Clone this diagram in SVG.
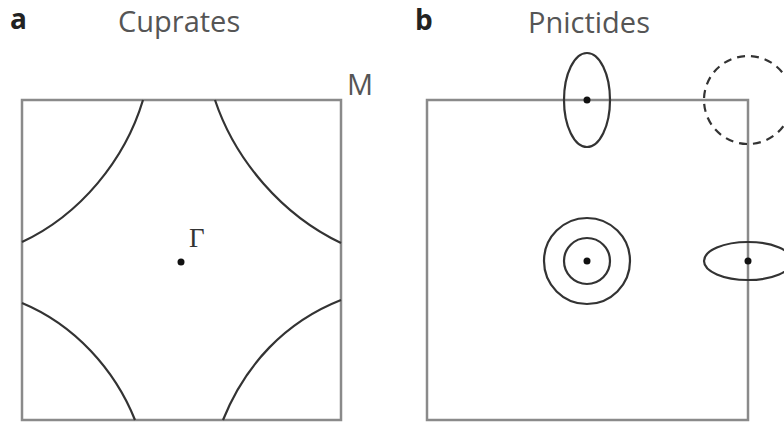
<svg xmlns="http://www.w3.org/2000/svg" width="784" height="426" viewBox="0 0 784 426">
<style>
.box{fill:none;stroke:#8a8a8a;stroke-width:2.5}
.fs{fill:none;stroke:#333;stroke-width:2.2}
.dot{fill:#111}
.lab{font-family:"Open Sans","Liberation Sans",sans-serif;font-weight:bold;font-size:28px;fill:#222}
.ttl{font-family:"Open Sans","Liberation Sans",sans-serif;font-size:29px;fill:#555}
</style>
<rect width="784" height="426" fill="#fff"/>
<g id="panel-a">
  <text class="lab" x="10" y="29">a</text>
  <text class="ttl" x="118" y="32">Cuprates</text>
  <rect class="box" x="22" y="100" width="319" height="320"/>
  <text class="ttl" x="347" y="95">M</text>
  <path class="fs" d="M143,100 C125,160 80,215 22,242"/>
  <path class="fs" d="M215,100 C235,160 282,215 341,243"/>
  <path class="fs" d="M22,303 C75,325 115,370 135,420"/>
  <path class="fs" d="M341,300 C285,322 245,365 223,420"/>
  <circle class="dot" cx="181" cy="262" r="3.5"/>
  <text x="189" y="247" font-family="Liberation Serif, serif" font-size="27" fill="#333">Γ</text>
</g>
<g id="panel-b">
  <text class="lab" x="415" y="30">b</text>
  <text class="ttl" x="528" y="33">Pnictides</text>
  <rect class="box" x="427" y="100" width="321" height="320"/>
  <ellipse class="fs" cx="587" cy="100" rx="23" ry="47"/>
  <circle class="dot" cx="587" cy="100" r="3.5"/>
  <circle cx="748" cy="100" r="44" fill="none" stroke="#333" stroke-width="2.2" stroke-dasharray="8,6"/>
  <circle class="fs" cx="587" cy="261" r="43"/>
  <circle class="fs" cx="587" cy="261" r="23"/>
  <circle class="dot" cx="587" cy="261" r="3.5"/>
  <ellipse class="fs" cx="748" cy="261" rx="44" ry="19"/>
  <circle class="dot" cx="748" cy="261" r="3.5"/>
</g>
</svg>
